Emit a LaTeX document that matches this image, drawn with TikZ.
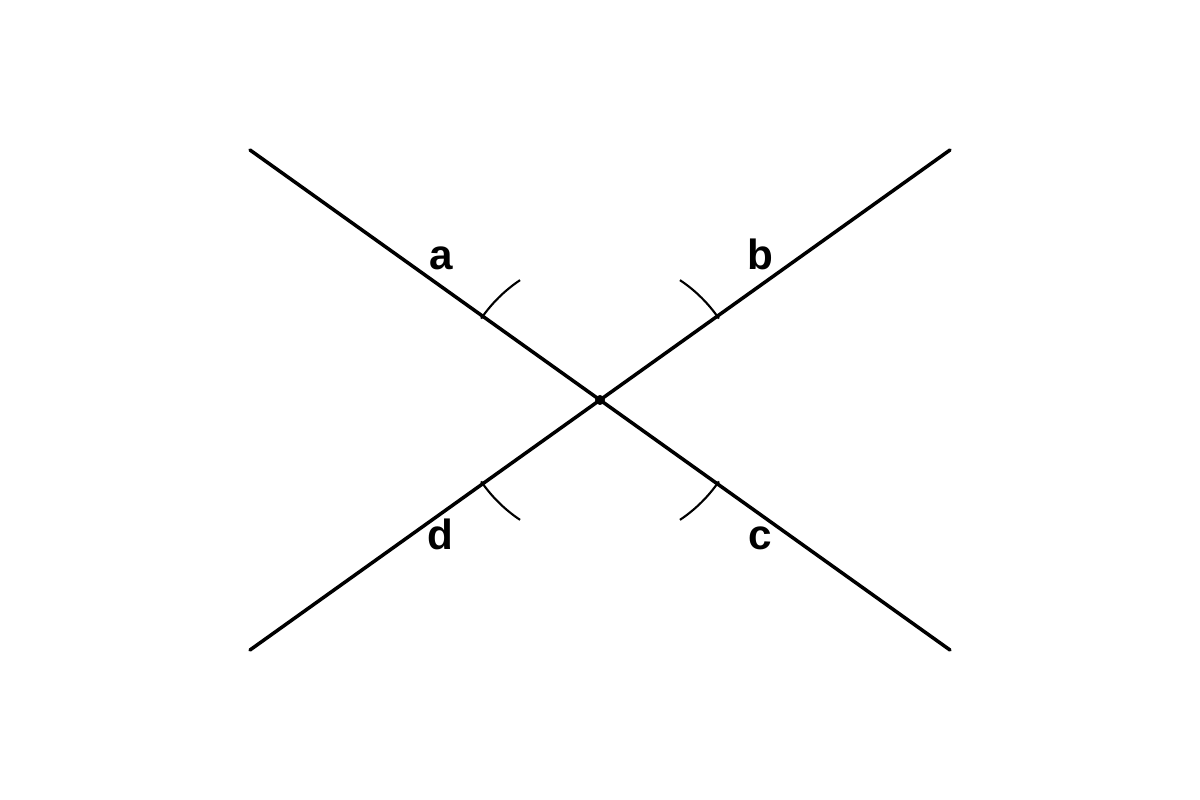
\documentclass[tikz,border=0pt]{standalone}
\usepackage{fontspec}
\setmainfont{Liberation Sans}
\begin{document}
\begin{tikzpicture}[x=0.01cm,y=0.01cm,
  mainline/.style={line width=1pt,line cap=round},
  anglearc/.style={line width=0.6pt},
  lbl/.style={font=\bfseries\fontsize{12}{14}\selectfont,anchor=base,inner sep=0pt}]
\useasboundingbox (0,0) rectangle (1200,800);
\coordinate (O) at (600,400);
\coordinate (TL) at (250,650);
\coordinate (TR) at (950,650);
\coordinate (BL) at (250,150);
\coordinate (BR) at (950,150);
\draw[mainline] (TL) -- (BR);
\draw[mainline] (TR) -- (BL);
\fill (O) circle[radius=0.05cm];
\draw[anglearc] (O) ++(123.7:1.44cm) arc[start angle=123.7,end angle=145.6,radius=1.44cm];
\draw[anglearc] (O) ++(56.3:1.44cm) arc[start angle=56.3,end angle=34.4,radius=1.44cm];
\draw[anglearc] (O) ++(-34.4:1.44cm) arc[start angle=-34.4,end angle=-56.3,radius=1.44cm];
\draw[anglearc] (O) ++(214.4:1.44cm) arc[start angle=214.4,end angle=236.3,radius=1.44cm];
\node[lbl] (la) at (441,530) {a};
\node[lbl] (lb) at (760,530) {b};
\node[lbl] (lc) at (760,250) {c};
\node[lbl] (ld) at (440,250) {d};
\end{tikzpicture}
\end{document}
